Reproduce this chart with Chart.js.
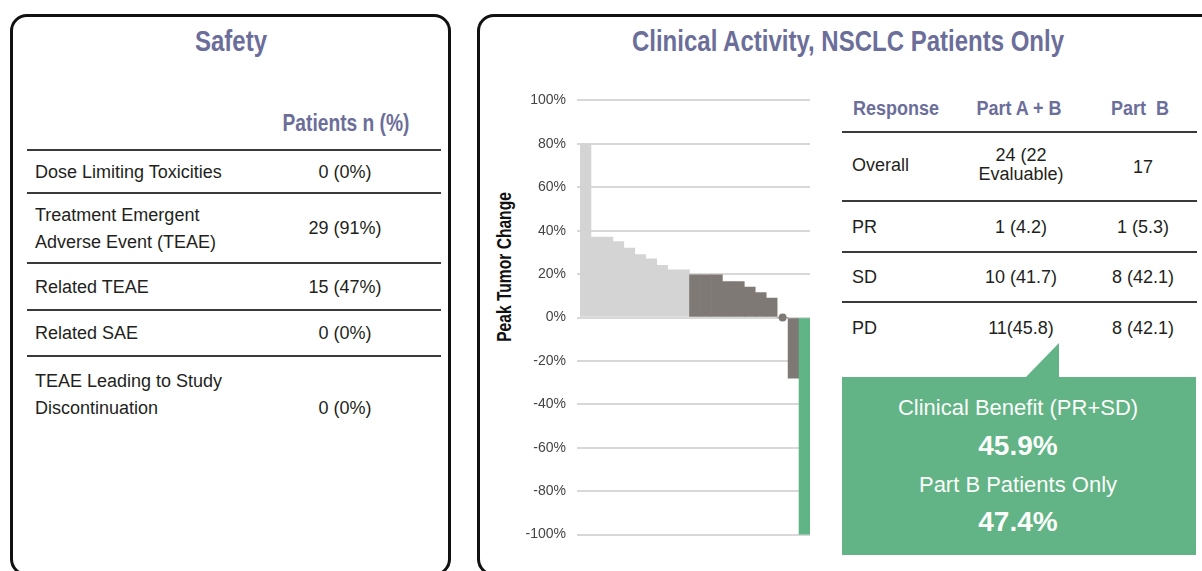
<!DOCTYPE html>
<html><head><meta charset="utf-8">
<script src="https://cdn.jsdelivr.net/npm/chart.js@4.4.1/dist/chart.umd.min.js"></script>
<style>
html,body{margin:0;padding:0;background:#fff;}
body{width:1202px;height:571px;position:relative;overflow:hidden;font-family:"Liberation Sans",Arial,Helvetica,sans-serif;color:#231f20;font-size:18px;}
.panel{position:absolute;box-sizing:border-box;border:3px solid #111;border-radius:17px;}
.t{position:absolute;white-space:pre;line-height:20px;}
.c{transform:translateX(-50%);text-align:center;}
.h{font-weight:bold;color:#6c6e9a;transform:translateX(-50%) scaleX(0.8);text-align:center;}
.rule{position:absolute;height:2px;background:#3a3a3a;}
.w{color:#fbfdfb;}
</style></head>
<body>
<!-- panels -->
<div class="panel" style="left:10px;top:14px;width:441px;height:562px;"></div>
<div class="panel" style="left:477px;top:14px;width:760px;height:562px;"></div>

<!-- Safety table -->
<div class="t h" style="left:231px;top:24px;font-size:30px;line-height:34px;">Safety</div>
<div class="t h" style="left:346px;top:109px;font-size:24px;line-height:28px;">Patients n (%)</div>
<div class="rule" style="left:27px;width:414px;top:149px;"></div>
<div class="rule" style="left:27px;width:414px;top:192px;"></div>
<div class="rule" style="left:27px;width:414px;top:262px;"></div>
<div class="rule" style="left:27px;width:414px;top:309px;"></div>
<div class="rule" style="left:27px;width:414px;top:355px;"></div>
<div class="t" style="left:35px;top:162px;">Dose Limiting Toxicities</div>
<div class="t c" style="left:345px;top:162px;">0 (0%)</div>
<div class="t" style="left:35px;top:202px;line-height:26.7px;">Treatment Emergent
Adverse Event (TEAE)</div>
<div class="t c" style="left:345px;top:218px;">29 (91%)</div>
<div class="t" style="left:35px;top:277px;">Related TEAE</div>
<div class="t c" style="left:345px;top:277px;">15 (47%)</div>
<div class="t" style="left:35px;top:323px;">Related SAE</div>
<div class="t" style="left:35px;top:368px;line-height:26.7px;">TEAE Leading to Study
Discontinuation</div>
<div class="t c" style="left:345px;top:323px;">0 (0%)</div>
<div class="t c" style="left:345px;top:398px;">0 (0%)</div>

<!-- Clinical activity -->
<div class="t h" style="left:848px;top:24px;font-size:30px;line-height:34px;">Clinical Activity, NSCLC Patients Only</div>
<div class="t" id="ytitle" style="left:504px;top:267px;font-weight:bold;font-size:19.5px;color:#111;transform:translate(-50%,-50%) rotate(-90deg) scaleX(0.8);">Peak Tumor Change</div>
<div style="position:absolute;left:500px;top:81px;width:320px;height:473px;"><canvas id="wf" width="320" height="473"></canvas></div>

<div class="t h" style="left:896px;top:96px;font-size:20px;line-height:24px;transform:translateX(-50%) scaleX(0.9);">Response</div>
<div class="t h" style="left:1019px;top:96px;font-size:20px;line-height:24px;transform:translateX(-50%) scaleX(0.9);">Part A + B</div>
<div class="t h" style="left:1140px;top:96px;font-size:20px;line-height:24px;transform:translateX(-50%) scaleX(0.9);">Part  B</div>
<div class="rule" style="left:842px;width:355px;top:131px;"></div>
<div class="rule" style="left:842px;width:355px;top:200px;"></div>
<div class="rule" style="left:842px;width:355px;top:251px;"></div>
<div class="rule" style="left:842px;width:355px;top:301px;"></div>
<div class="t" style="left:852px;top:155px;">Overall</div>
<div class="t c" style="left:1021px;top:146px;line-height:19px;">24 (22
Evaluable)</div>
<div class="t c" style="left:1143px;top:157px;">17</div>
<div class="t" style="left:852px;top:217px;">PR</div>
<div class="t c" style="left:1021px;top:217px;">1 (4.2)</div>
<div class="t c" style="left:1143px;top:217px;">1 (5.3)</div>
<div class="t" style="left:852px;top:267px;">SD</div>
<div class="t c" style="left:1021px;top:267px;">10 (41.7)</div>
<div class="t c" style="left:1143px;top:267px;">8 (42.1)</div>
<div class="t" style="left:852px;top:318px;">PD</div>
<div class="t c" style="left:1021px;top:318px;">11(45.8)</div>
<div class="t c" style="left:1143px;top:318px;">8 (42.1)</div>

<!-- callout -->
<div style="position:absolute;left:1025px;top:343px;width:34px;height:35px;background:#62b385;clip-path:polygon(0 100%,100% 0,100% 100%);"></div>
<div style="position:absolute;left:842px;top:377px;width:354px;height:178px;background:#62b385;"></div>
<div class="t c w" style="left:1018px;top:395px;font-size:22px;line-height:26px;">Clinical Benefit (PR+SD)</div>
<div class="t c w" style="left:1018px;top:430px;font-size:28px;line-height:32px;font-weight:bold;">45.9%</div>
<div class="t c w" style="left:1018px;top:472px;font-size:22px;line-height:26px;">Part B Patients Only</div>
<div class="t c w" style="left:1018px;top:506px;font-size:28px;line-height:32px;font-weight:bold;">47.4%</div>

<script>
// ---- data ----
const patients = ['1','2','3','4','5','6','7','8','9','10','11','12','13','14','15','16','17','18','19','20','21'];
const peakChange = [80, 37, 37, 35, 32, 29, 27, 24, 22, 22, 19.6, 19.6, 19.6, 16.6, 16.6, 14, 11.5, 8.9, 0, -28, -100];
const response = ['PD','PD','PD','PD','PD','PD','PD','PD','PD','PD','SD','SD','SD','SD','SD','SD','SD','SD','SD','SD','PR'];
const responseColors = {PD:'#d4d4d4', SD:'#7f7975', PR:'#5fb585'};
const yMin = -100, yMax = 100, yStep = 20;

new Chart(document.getElementById('wf'), {
  type: 'bar',
  data: {
    labels: patients,
    datasets: [
      {
        type: 'line',
        data: peakChange.map(v => v === 0 ? 0 : null),
        showLine: false,
        pointRadius: 4,
        pointBackgroundColor: '#7f7975',
        pointBorderWidth: 0,
        order: 0
      },
      {
        data: peakChange,
        backgroundColor: response.map(r => responseColors[r]),
        borderWidth: 0,
        barPercentage: 1,
        categoryPercentage: 1,
        order: 1
      }
    ]
  },
  options: {
    responsive: false,
    animation: false,
    devicePixelRatio: 1,
    layout: {padding: {top: 6, bottom: 4, left: 0, right: 10}},
    plugins: {legend: {display: false}, tooltip: {enabled: false}},
    scales: {
      x: {display: false},
      y: {
        min: yMin, max: yMax,
        afterFit: s => { s.width = 80; },
        border: {display: false},
        grid: {color: '#d8d8d8', lineWidth: 2, tickLength: 3},
        ticks: {
          stepSize: yStep,
          padding: 11,
          color: '#444',
          font: {family: '"Liberation Sans", Arial, sans-serif', size: 14},
          callback: v => v + '%'
        }
      }
    }
  }
});
</script>
</body></html>
